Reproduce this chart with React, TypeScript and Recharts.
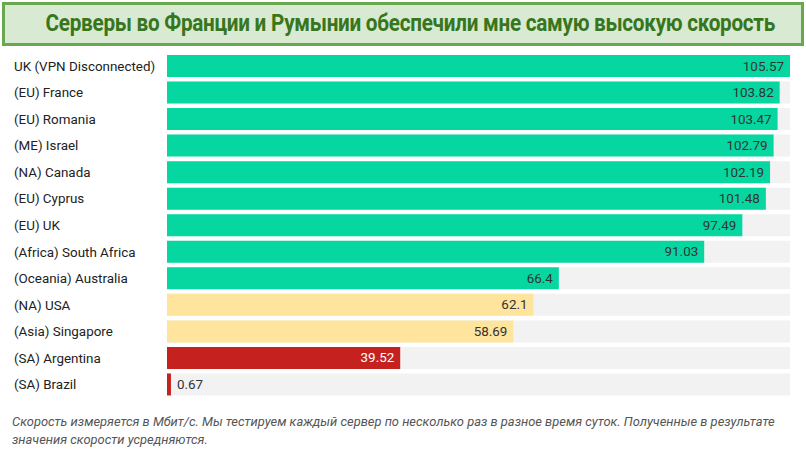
import { BarChart, Bar, XAxis, YAxis, Cell, LabelList } from "recharts";

const servers = [
  "UK (VPN Disconnected)",
  "(EU) France",
  "(EU) Romania",
  "(ME) Israel",
  "(NA) Canada",
  "(EU) Cyprus",
  "(EU) UK",
  "(Africa) South Africa",
  "(Oceania) Australia",
  "(NA) USA",
  "(Asia) Singapore",
  "(SA) Argentina",
  "(SA) Brazil",
];

const speeds = [105.57, 103.82, 103.47, 102.79, 102.19, 101.48, 97.49, 91.03, 66.4, 62.1, 58.69, 39.52, 0.67];

const GREEN = "#06d7a0";
const YELLOW = "#fee49c";
const RED = "#c5221f";

const rows = servers.map((name, i) => ({ name, speed: speeds[i] }));

const colorFor = (v: number) => (v >= 65 ? GREEN : v >= 50 ? YELLOW : RED);

const NameTick = (props: any) => {
  const { y, payload } = props;
  return (
    <text x={14} y={y} dy={4.5} fontSize={13.4} fill="#222" fontFamily="Roboto" textAnchor="start">
      {payload.value}
    </text>
  );
};

const ValueLabel = (props: any) => {
  const { x, y, width, height, value } = props;
  const small = width < 30;
  const tx = small ? x + width + 6 : x + width - 6;
  const fill = value < 50 && !small ? "#fff" : "#333";
  return (
    <text
      x={tx}
      y={y + height / 2}
      dy={4.5}
      fontSize={13.4}
      fontFamily="Roboto"
      fill={fill}
      textAnchor={small ? "start" : "end"}
    >
      {value}
    </text>
  );
};

export default function App() {
  return (
    <div style={{ position: "absolute", left: 0, top: 0, width: 806, height: 454, background: "#fff" }}>
      <div
        style={{
          position: "absolute",
          left: 2,
          top: 2,
          width: 796,
          height: 38,
          border: "3px solid #6aa84f",
          background: "#d9ead3",
          color: "#38761d",
          fontFamily: "Roboto",
          fontWeight: 700,
          fontSize: 23,
          lineHeight: "38px",
          textAlign: "center",
          whiteSpace: "nowrap",
        }}
      >
        <span style={{ display: "inline-block", transform: "scaleX(0.9)", letterSpacing: -0.3 }}>
          Серверы во Франции и Румынии обеспечили мне самую высокую скорость
        </span>
      </div>
      <BarChart
        width={806}
        height={454}
        data={rows}
        layout="vertical"
        margin={{ top: 53, right: 16, bottom: 56, left: 0 }}
      >
        <XAxis type="number" domain={[0, 105.57]} hide />
        <YAxis
          type="category"
          dataKey="name"
          width={167}
          axisLine={false}
          tickLine={false}
          tick={<NameTick />}
          interval={0}
        />
        <Bar dataKey="speed" barSize={22} background={{ fill: "#f2f2f2" }} isAnimationActive={false}>
          {rows.map((r) => (
            <Cell key={r.name} fill={colorFor(r.speed)} />
          ))}
          <LabelList dataKey="speed" content={<ValueLabel />} />
        </Bar>
      </BarChart>
      <div
        style={{
          position: "absolute",
          left: 12,
          top: 413,
          width: 780,
          fontFamily: "Roboto",
          fontStyle: "italic",
          fontSize: 12.9,
          lineHeight: "18px",
          color: "#555",
        }}
      >
        Скорость измеряется в Мбит/с. Мы тестируем каждый сервер по несколько раз в разное время суток. Полученные в результате
        <br />
        значения скорости усредняются.
      </div>
    </div>
  );
}
